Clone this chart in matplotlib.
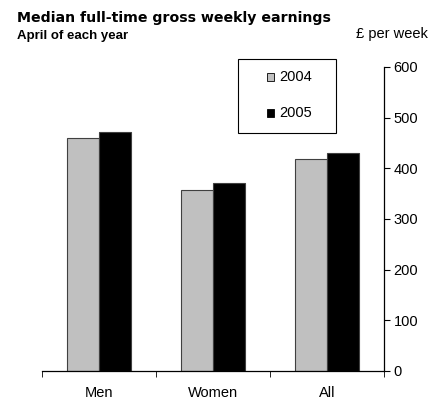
import numpy as np
import matplotlib
matplotlib.use("Agg")
import matplotlib.pyplot as plt
from matplotlib.patches import Rectangle

plt.rcParams['font.family'] = ['Liberation Sans', 'DejaVu Sans']

categories = ['Men', 'Women', 'All']
years = ['2004', '2005']
earnings_2004 = [460, 357, 419]
earnings_2005 = [472, 371, 431]
yticks = [0, 100, 200, 300, 400, 500, 600]
colors = ['#c0c0c0', 'black']

W, H = 442, 401
fig = plt.figure(figsize=(W / 100, H / 100), dpi=100)
ax = fig.add_axes([42 / W, 30 / H, 342 / W, 304 / H])

x = np.arange(len(categories))
w = 0.285
ax.bar(x - w / 2, earnings_2004, w, color=colors[0], edgecolor='#404040', linewidth=0.8)
ax.bar(x + w / 2, earnings_2005, w, color=colors[1], edgecolor='#404040', linewidth=0.8)

ax.set_xlim(-0.5, 2.5)
ax.set_ylim(0, 600)
ax.set_xticks(x)
ax.set_xticklabels(categories, fontsize=10.5)
ax.tick_params(axis='x', length=0, pad=11)
ax.set_xticks([-0.5, 0.5, 1.5, 2.5], minor=True)
ax.tick_params(axis='x', which='minor', length=4, direction='out')

ax.yaxis.tick_right()
ax.set_yticks(yticks)
ax.tick_params(axis='y', labelsize=10.5, length=4, direction='out', pad=3)

for s in ['top', 'left']:
    ax.spines[s].set_visible(False)
ax.spines['right'].set_linewidth(0.9)
ax.spines['bottom'].set_linewidth(0.9)

# legend box drawn by hand (wide box, entries near the middle)
fig.add_artist(Rectangle((238 / W, 1 - 133 / H), 98 / W, 74 / H, transform=fig.transFigure,
                         facecolor='white', edgecolor='black', linewidth=0.8))
for i, (yr, c) in enumerate(zip(years, colors)):
    yc = 77 + i * 36
    fig.add_artist(Rectangle((267 / W, 1 - (yc + 3.5) / H), 6.5 / W, 7 / H,
                             transform=fig.transFigure, facecolor=c,
                             edgecolor='black', linewidth=0.6))
    fig.text(279 / W, 1 - yc / H, yr, fontsize=10.5, va='center', ha='left')

fig.text(17 / W, 1 - 18 / H, 'Median full-time gross weekly earnings',
         fontsize=10.2, fontweight='bold', va='center', ha='left',
         family=['DejaVu Sans'])
fig.text(17 / W, 1 - 35.5 / H, 'April of each year',
         fontsize=9.5, fontweight='bold', va='center', ha='left')
fig.text(428 / W, 1 - 34 / H, '£ per week',
         fontsize=10.5, va='center', ha='right')

fig.savefig('out.png', dpi=100)
